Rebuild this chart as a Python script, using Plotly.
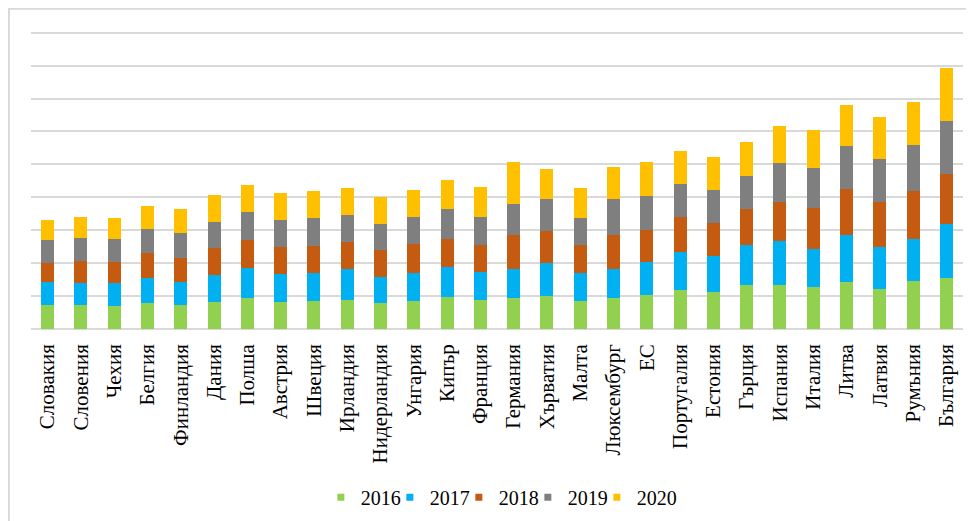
import plotly.graph_objects as go

categories = ["Словакия", "Словения", "Чехия", "Белгия", "Финландия", "Дания", "Полша",
              "Австрия", "Швеция", "Ирландия", "Нидерландия", "Унгария", "Кипър", "Франция",
              "Германия", "Хърватия", "Малта", "Люксембург", "ЕС", "Португалия", "Естония",
              "Гърция", "Испания", "Италия", "Литва", "Латвия", "Румъния", "България"]

v2016 = [0.73, 0.73, 0.70, 0.78, 0.73, 0.82, 0.95, 0.82, 0.85, 0.88, 0.78, 0.85, 0.98, 0.88,
         0.95, 1.01, 0.85, 0.95, 1.04, 1.17, 1.11, 1.33, 1.33, 1.27, 1.42, 1.23, 1.45, 1.55]
v2017 = [0.69, 0.66, 0.69, 0.77, 0.69, 0.82, 0.91, 0.85, 0.85, 0.94, 0.80, 0.85, 0.91, 0.86,
         0.87, 1.00, 0.85, 0.87, 1.00, 1.17, 1.11, 1.21, 1.33, 1.17, 1.45, 1.27, 1.27, 1.64]
v2018 = [0.59, 0.69, 0.66, 0.75, 0.73, 0.83, 0.85, 0.82, 0.82, 0.83, 0.82, 0.89, 0.85, 0.82,
         1.02, 0.98, 0.86, 1.04, 0.98, 1.05, 1.01, 1.11, 1.21, 1.23, 1.39, 1.37, 1.46, 1.52]
v2019 = [0.68, 0.67, 0.67, 0.73, 0.76, 0.78, 0.85, 0.82, 0.85, 0.81, 0.79, 0.81, 0.91, 0.84,
         0.97, 0.95, 0.81, 1.09, 1.01, 1.00, 1.00, 1.00, 1.17, 1.21, 1.31, 1.29, 1.42, 1.60]
v2020 = [0.63, 0.66, 0.66, 0.72, 0.73, 0.82, 0.82, 0.82, 0.82, 0.82, 0.81, 0.82, 0.86, 0.91,
         1.26, 0.91, 0.91, 0.97, 1.03, 1.01, 0.99, 1.04, 1.14, 1.17, 1.23, 1.27, 1.29, 1.62]

series = [("2016", v2016, "#92d050"), ("2017", v2017, "#00b0f0"), ("2018", v2018, "#c55a11"),
          ("2019", v2019, "#7f7f7f"), ("2020", v2020, "#ffc000")]

FONT = "Liberation Serif, Times New Roman, serif"

fig = go.Figure()
for name, vals, color in series:
    fig.add_trace(go.Bar(x=categories, y=vals, name=name, showlegend=False,
                         marker=dict(color=color, line=dict(width=0))))
# small square legend markers
for name, vals, color in series:
    fig.add_trace(go.Scatter(x=[None], y=[None], mode="markers", name=name,
                             marker=dict(symbol="square", size=7, color=color)))
# empty spacer entry so the last label is not clipped by the narrow entry width
fig.add_trace(go.Scatter(x=[None], y=[None], mode="markers", name=" ",
                         marker=dict(symbol="square", size=7, color="rgba(0,0,0,0)")))

# page body has an 8px margin, so the figure is sized/positioned to compensate
fig.update_layout(
    barmode="stack",
    bargap=0.61,
    width=966, height=513,
    margin=dict(l=23, r=11, t=23, b=192, autoexpand=False),
    paper_bgcolor="white", plot_bgcolor="white",
    font=dict(family=FONT, size=20, color="#000000"),
    showlegend=True,
    legend=dict(orientation="h", x=0.311, xanchor="left", y=-0.565, yanchor="middle",
                font=dict(family=FONT, size=20), itemwidth=30, traceorder="normal",
                itemsizing="trace", entrywidth=24, entrywidthmode="pixels",
                bgcolor="rgba(0,0,0,0)"),
    xaxis=dict(tickangle=-90, tickfont=dict(family=FONT, size=21), showgrid=False,
               showline=False, ticks="", automargin=False, ticklabelstandoff=10),
    yaxis=dict(range=[0, 9.05], dtick=1, showticklabels=False, showgrid=True,
               gridcolor="#d9d9d9", gridwidth=1.5, zeroline=True, zerolinecolor="#d9d9d9",
               zerolinewidth=1.5, showline=False, ticks="", automargin=False),
    shapes=[dict(type="rect", xref="paper", yref="paper", x0=-0.0236, x1=1.05, y0=-0.75, y1=1.0745,
                 line=dict(color="#d9d9d9", width=2), fillcolor="rgba(0,0,0,0)", layer="below")],
)

fig.write_html("out.html")
